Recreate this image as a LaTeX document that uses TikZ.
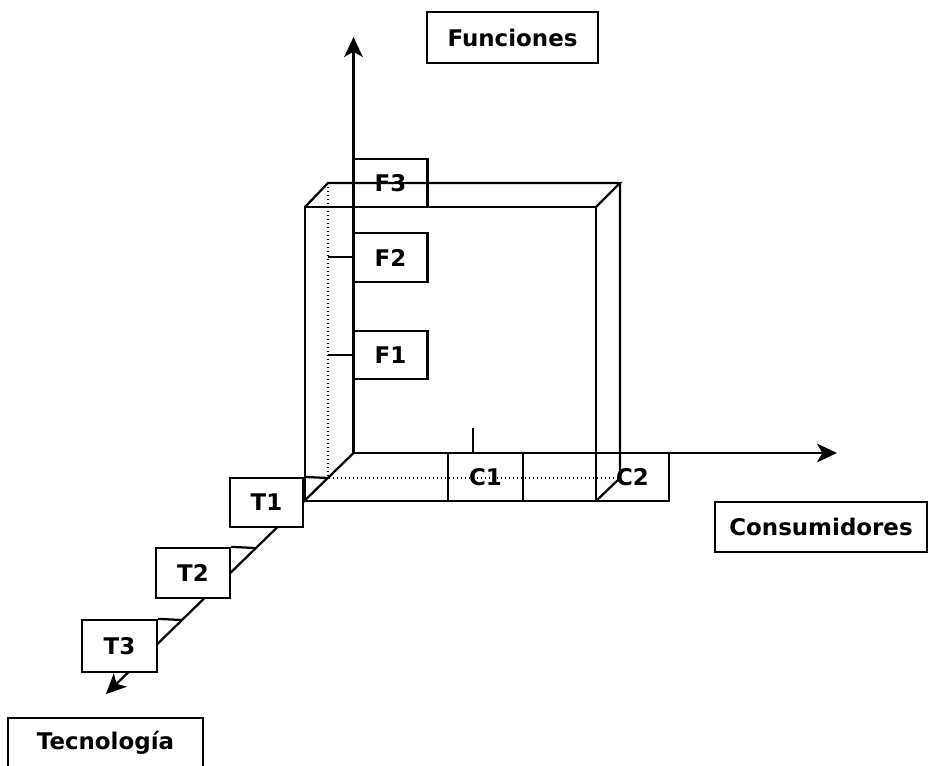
\documentclass[tikz,border=0pt]{standalone}
\usepackage{fontspec}
\setmainfont{DejaVu Sans}
\usetikzlibrary{arrows.meta}
\tikzset{
  edge/.style={line width=1.7pt},
  hidden/.style={line width=1pt, dotted},
  axisarrow/.style={line width=1.7pt, -{Stealth[length=15pt,width=14pt,inset=4pt]}},
  lblbox/.style={draw, line width=1.7pt, inner sep=0pt, font=\bfseries\fontsize{17.2}{20}\selectfont},
  tbox/.style={lblbox, fill=white}
}
\begin{document}
\begin{tikzpicture}[x=0.75pt,y=-0.75pt]
\useasboundingbox (0,0) rectangle (930,765);
% key points
\coordinate (O) at (353.5,453);
\coordinate (Vtip) at (353.5,37);
\coordinate (Htip) at (837,453);
\coordinate (Dtip) at (106,694);
\coordinate (FTL) at (305,207);
\coordinate (FTR) at (596,207);
\coordinate (FBL) at (305,501);
\coordinate (FBR) at (596,501);
\coordinate (BTL) at (328,183);
\coordinate (BTR) at (620,183);
\coordinate (BBL) at (328,478);
\coordinate (BBR) at (620,478);
% hidden edges
\draw[hidden] (BTL) -- (BBL) -- (BBR);
% slab
\draw[edge] (FTL) rectangle (FBR);
\draw[edge] (FTL) -- (BTL) -- (BTR) -- (FTR);
\draw[edge] (BTR) -- (BBR) -- (FBR);
% axes
\draw[axisarrow] (O) -- (Vtip);
\draw[axisarrow] (O) -- (Htip);
\draw[axisarrow] (O) -- (Dtip);
% ticks
\coordinate (f2t) at (328,257);
\coordinate (f2a) at (353,257);
\coordinate (f1t) at (328,355);
\coordinate (f1a) at (353,355);
\draw[edge] (f2t) -- (f2a);
\draw[edge] (f1t) -- (f1a);
\coordinate (c1t) at (473,428);
\coordinate (c1a) at (473,453);
\draw[edge] (c1t) -- (c1a);
% F boxes
\node[lblbox, minimum width=74*0.75pt, minimum height=48*0.75pt] (F3) at (390.5,183) {F3};
\node[lblbox, minimum width=74*0.75pt, minimum height=49*0.75pt] (F2) at (390.5,257.5) {F2};
\node[lblbox, minimum width=74*0.75pt, minimum height=48*0.75pt] (F1) at (390.5,355) {F1};
% C boxes
\node[lblbox, minimum width=75*0.75pt, minimum height=48*0.75pt] (C1) at (485.5,477) {C1};
\node[lblbox, minimum width=73*0.75pt, minimum height=48*0.75pt] (C2) at (632.5,477) {C2};
% T boxes with ticks
\coordinate (t1a) at (327.5,478);
\coordinate (t2a) at (255.6,548);
\coordinate (t3a) at (181.9,620);
\node[tbox, minimum width=73*0.75pt, minimum height=49*0.75pt] (T1) at (266.5,502.5) {T1};
\node[tbox, minimum width=74*0.75pt, minimum height=50*0.75pt] (T2) at (193,573) {T2};
\node[tbox, minimum width=75*0.75pt, minimum height=52*0.75pt] (T3) at (119.5,646) {T3};
\draw[edge] (T1.north east) -- (t1a);
\draw[edge] (T2.north east) -- (t2a);
\draw[edge] (T3.north east) -- (t3a);
% axis labels
\node[lblbox, minimum width=171*0.75pt, minimum height=51*0.75pt] (fun) at (512.5,37.5) {Funciones};
\node[lblbox, minimum width=212*0.75pt, minimum height=50*0.75pt] (con) at (821,527) {Consumidores};
\node[lblbox, minimum width=195*0.75pt, minimum height=50*0.75pt] (tec) at (105.5,743) {Tecnología};
\end{tikzpicture}
\end{document}
